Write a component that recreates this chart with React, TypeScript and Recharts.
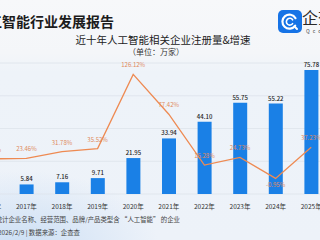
import React from "react";
import {
  ComposedChart,
  Bar,
  Line,
  XAxis,
  YAxis,
  CartesianGrid,
  LabelList,
} from "recharts";

const years = [
  "2016年",
  "2017年",
  "2018年",
  "2019年",
  "2020年",
  "2021年",
  "2022年",
  "2023年",
  "2024年",
  "2025年",
];
// 注册量（万家）
const registrations = [4.73, 5.84, 7.16, 9.71, 21.95, 33.94, 44.1, 55.75, 55.22, 75.78];
// 增速（%）
const growthRates = [22.91, 23.46, 31.78, 35.52, 126.12, 77.42, 15.28, 24.73, -0.95, 37.23];
const countTicks = [0, 10, 20, 30, 40, 50, 60, 70, 80];
const rateTicks = [-20, 0, 20, 40, 60, 80, 100, 120, 140];

const data = years.map((year, i) => ({
  year,
  count: registrations[i],
  rate: growthRates[i],
}));

const FONT = '"Noto Sans CJK SC", "Noto Sans", sans-serif';
const BAR_BLUE = "#1a80e6";
const LINE_ORANGE = "#ee8a52";

const RateLabel = (props: any) => {
  const { x, y, value } = props;
  const below = value < 0;
  return (
    <text
      x={x}
      y={below ? y + 9 : y - 7}
      textAnchor="middle"
      fontSize={6}
      fontFamily={FONT}
      fill="#e08a5c"
    >
      {`${Number(value).toFixed(2)}%`}
    </text>
  );
};

const CountLabel = (props: any) => {
  const { x, y, width, value } = props;
  return (
    <text
      x={x + width / 2}
      y={y - 3}
      textAnchor="middle"
      fontSize={6}
      fontWeight={500}
      fontFamily={FONT}
      fill="#1d1d1d"
    >
      {Number(value).toFixed(2)}
    </text>
  );
};

const Logo = () => (
  <div style={{ position: "absolute", left: 278, top: 10 }}>
    <svg width={24} height={23}>
      <rect x={0} y={0} width={24} height={23} rx={5} fill="#1673e6" />
      <path
        d="M17.5 8.2 A7 7 0 1 0 17.2 15.6"
        stroke="#fff"
        strokeWidth={2.2}
        fill="none"
        strokeLinecap="round"
      />
      <path
        d="M14.6 9.8 A3.4 3.4 0 1 0 14.6 13.6"
        stroke="#fff"
        strokeWidth={1.6}
        fill="none"
        strokeLinecap="round"
      />
      <line x1={16.5} y1={16.5} x2={19} y2={19} stroke="#fff" strokeWidth={2} strokeLinecap="round" />
    </svg>
  </div>
);

export default function App() {
  return (
    <div
      style={{
        position: "absolute",
        left: 0,
        top: 0,
        width: 320,
        height: 240,
        overflow: "hidden",
        fontFamily: FONT,
        background: "linear-gradient(180deg, #f7f8fa 0%, #f4f6f9 22%, #eef3f9 30%, #edf2f9 100%)",
      }}
    >
      <div
        style={{
          position: "absolute",
          left: -40,
          bottom: -40,
          width: 200,
          height: 110,
          background: "radial-gradient(ellipse at 30% 70%, rgba(190,215,242,0.7) 0%, rgba(220,234,248,0) 70%)",
        }}
      />
      <div
        style={{
          position: "absolute",
          left: -26,
          top: 12,
          fontSize: 14,
          fontWeight: 700,
          color: "#1c1c1c",
          whiteSpace: "nowrap",
          lineHeight: "18px",
        }}
      >
        人工智能行业发展报告
      </div>
      <Logo />
      <div
        style={{
          position: "absolute",
          left: 302,
          top: 7,
          fontSize: 16,
          color: "#2a2a2a",
          lineHeight: "20px",
          whiteSpace: "nowrap",
        }}
      >
        企查查
      </div>
      <div
        style={{
          position: "absolute",
          left: 306,
          top: 28,
          fontSize: 5,
          color: "#444",
          letterSpacing: 3,
          lineHeight: "6px",
          whiteSpace: "nowrap",
        }}
      >
        Qcc.com
      </div>
      <div
        style={{
          position: "absolute",
          left: 0,
          width: 326,
          top: 33,
          textAlign: "center",
          fontSize: 10.5,
          color: "#222",
          lineHeight: "14px",
          whiteSpace: "nowrap",
        }}
      >
        近十年人工智能相关企业注册量&amp;增速
      </div>
      <div
        style={{
          position: "absolute",
          left: 0,
          width: 312,
          top: 47,
          textAlign: "center",
          fontSize: 8,
          color: "#333",
          lineHeight: "10px",
          whiteSpace: "nowrap",
        }}
      >
        （单位：万家）
      </div>

      <div style={{ position: "absolute", left: -27, top: 0 }}>
        <ComposedChart
          width={356}
          height={240}
          data={data}
          margin={{ top: 63, right: 0, bottom: 30, left: 0 }}
          barCategoryGap={0}
        >
          <CartesianGrid
            vertical={false}
            yAxisId="count"
            stroke="#dde3eb"
            strokeWidth={0.8}
          />
          <XAxis
            dataKey="year"
            axisLine={false}
            tickLine={false}
            height={16}
            interval={0}
            tick={{ fontSize: 6.5, fill: "#333", fontFamily: FONT }}
            tickMargin={4}
          />
          <YAxis yAxisId="count" hide domain={[0, 80]} ticks={countTicks} />
          <YAxis yAxisId="rate" hide domain={[-20, 140]} ticks={rateTicks} orientation="right" />
          <Bar
            yAxisId="count"
            dataKey="count"
            fill={BAR_BLUE}
            barSize={14}
            isAnimationActive={false}
          >
            <LabelList dataKey="count" content={<CountLabel />} />
          </Bar>
          <Line
            yAxisId="rate"
            type="linear"
            dataKey="rate"
            stroke={LINE_ORANGE}
            strokeWidth={1.3}
            dot={false}
            isAnimationActive={false}
          >
            <LabelList dataKey="rate" content={<RateLabel />} />
          </Line>
        </ComposedChart>
      </div>

      <div
        style={{
          position: "absolute",
          right: 140,
          top: 216,
          fontSize: 6.4,
          color: "#444",
          whiteSpace: "nowrap",
          lineHeight: "8px",
        }}
      >
        注：统计企业名称、经营范围、品牌/产品类型含 “人工智能” 的企业
      </div>
      <div
        style={{
          position: "absolute",
          right: 240,
          top: 229,
          fontSize: 6.4,
          color: "#444",
          whiteSpace: "nowrap",
          lineHeight: "8px",
        }}
      >
        数据截至2026/2/9 | 数据来源：企查查
      </div>
    </div>
  );
}
